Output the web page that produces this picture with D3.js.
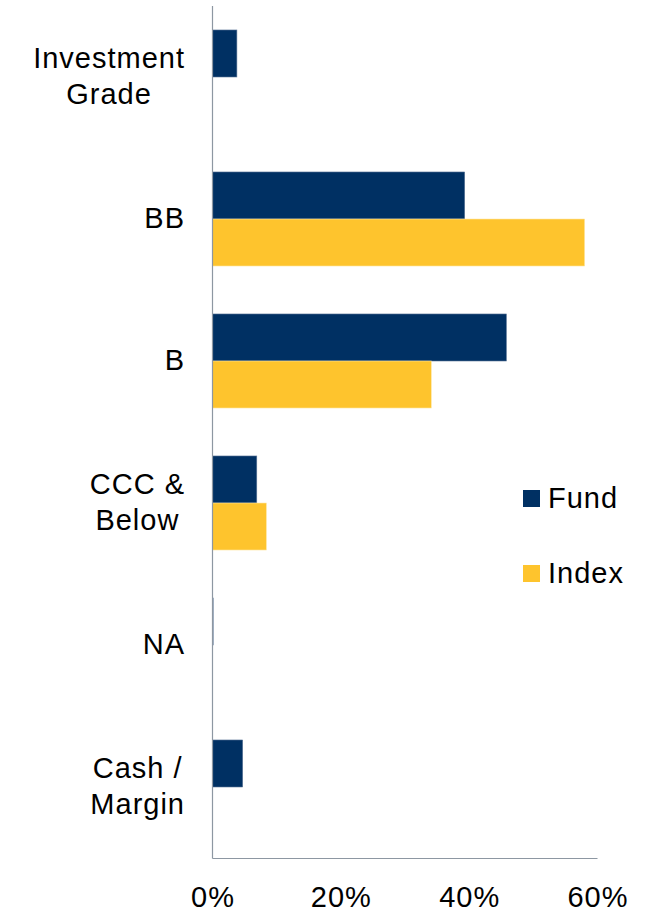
<!DOCTYPE html>
<html>
<head>
<meta charset="utf-8">
<script src="https://cdn.jsdelivr.net/npm/d3@7"></script>
<style>
  body { margin: 0; background: #fff; }
  text { font-family: "Liberation Sans", Arial, sans-serif; fill: #000; letter-spacing: 1px; }
</style>
</head>
<body>
<div id="chart"></div>
<script>
const categories = [["Investment", "Grade"], ["BB"], ["B"], ["CCC &", "Below"], ["NA"], ["Cash /", "Margin"]];
const series = ["Fund", "Index"];
const fundValues = [3.8, 39.3, 45.8, 6.9, 0.1, 4.7];
const indexValues = [0, 58.0, 34.1, 8.4, 0, 0];
const ticks = [0, 20, 40, 60];
const colors = ["#003063", "#FEC42D"];

const width = 653, height = 918;
const svg = d3.select("#chart").append("svg")
    .attr("width", width)
    .attr("height", height);

const keys = categories.map(c => c.join(" "));
const data = keys.map((k, i) => ({ key: k, lines: categories[i], vals: [fundValues[i], indexValues[i]] }));

const x = d3.scaleLinear().domain([0, 60]).range([212.5, 597.5]);
const y = d3.scaleBand().domain(keys).range([6, 858]).padding(0);
const ySub = d3.scaleBand().domain(series).range([0, y.bandwidth()]).paddingInner(0).paddingOuter(0.51);

// bars
const groups = svg.selectAll(".cat")
    .data(data)
    .enter()
    .append("g")
    .attr("transform", d => `translate(0, ${y(d.key)})`);

groups.selectAll("rect")
    .data(d => d.vals.map((v, j) => ({ s: series[j], v: v, j: j })))
    .enter()
    .append("rect")
    .attr("x", x(0))
    .attr("y", d => ySub(d.s))
    .attr("width", d => x(d.v) - x(0))
    .attr("height", ySub.bandwidth())
    .attr("fill", d => colors[d.j])
    .attr("stroke", d => d.v > 0 ? (d.j === 0 ? "#5a7596" : "#fde8a8") : "none")
    .attr("stroke-width", 0.6);

// axis lines
svg.append("line")
    .attr("x1", x(0)).attr("x2", x(0))
    .attr("y1", 6).attr("y2", 858.5)
    .attr("stroke", "#8d97a2").attr("stroke-width", 1.2);
svg.append("line")
    .attr("x1", x(0)).attr("x2", x(60))
    .attr("y1", 858.5).attr("y2", 858.5)
    .attr("stroke", "#8d97a2").attr("stroke-width", 1.2);

// x tick labels
svg.selectAll(".tick-label")
    .data(ticks)
    .enter()
    .append("text")
    .attr("x", d => x(d) + 0.5)
    .attr("y", 907)
    .attr("text-anchor", "middle")
    .style("font-size", "29px")
    .text(d => d + "%");

// category labels: lines centred on the widest line, block right-aligned
const labelRight = 185;
const lineH = 36;
data.forEach(d => {
    const cy = y(d.key) + y.bandwidth() / 2;
    const n = d.lines.length;
    const tmp = d.lines.map(l => svg.append("text").style("font-size", "29px").text(l));
    const w = d3.max(tmp, t => t.node().getComputedTextLength());
    tmp.forEach((t, i) => {
        t.attr("text-anchor", "middle")
            .attr("x", labelRight - w / 2)
            .attr("y", cy + 9 + (i - (n - 1) / 2) * lineH);
    });
});

// legend
const legend = svg.selectAll(".legend")
    .data(series)
    .enter()
    .append("g")
    .attr("transform", (d, i) => `translate(523, ${490 + i * 75})`);
legend.append("rect")
    .attr("width", 17).attr("height", 17)
    .attr("fill", (d, i) => colors[i]);
legend.append("text")
    .attr("x", 25)
    .attr("y", 18)
    .style("font-size", "29px")
    .text(d => d);
</script>
</body>
</html>
